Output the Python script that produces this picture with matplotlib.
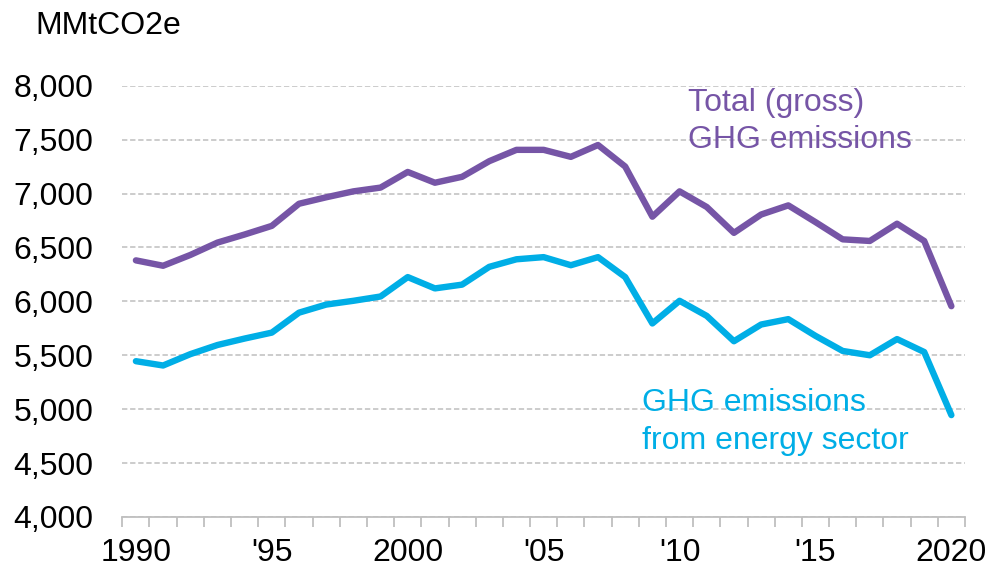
import matplotlib
matplotlib.use("Agg")
import matplotlib.pyplot as plt
from matplotlib.ticker import FixedLocator, FuncFormatter

plt.rcParams["font.family"] = ["Liberation Sans", "DejaVu Sans"]

# ── Data (MMtCO2e) ───────────────────────────────────────────────────────────
years = list(range(1990, 2021))
total_gross = [6380, 6330, 6430, 6545, 6620, 6700, 6905, 6965, 7020, 7055,
               7200, 7100, 7155, 7300, 7405, 7405, 7340, 7450, 7250, 6785,
               7020, 6875, 6635, 6805, 6890, 6735, 6575, 6560, 6720, 6560,
               5955]
energy_sector = [5445, 5405, 5510, 5595, 5655, 5710, 5895, 5970, 6005, 6045,
                 6225, 6120, 6155, 6320, 6390, 6410, 6335, 6410, 6225, 5795,
                 6005, 5865, 5630, 5785, 5835, 5680, 5540, 5500, 5650, 5530,
                 4945]
label_years = [1990, 1995, 2000, 2005, 2010, 2015, 2020]
label_text = ["1990", "'95", "2000", "'05", "'10", "'15", "2020"]
y_ticks = [4000, 4500, 5000, 5500, 6000, 6500, 7000, 7500, 8000]

C = dict(total="#7655A6", energy="#00AEE6", grid="#BFBFBF", axis="#BFBFBF", text="#000000")
FS = 23

fig = plt.figure(figsize=(9.88, 5.69), dpi=100, facecolor="white")
ax = fig.add_axes([0.1238, 0.0914, 0.8529, 0.758])

ax.plot(years, total_gross, color=C["total"], lw=4.6, solid_capstyle="round",
        solid_joinstyle="round", zorder=3)
ax.plot(years, energy_sector, color=C["energy"], lw=4.6, solid_capstyle="round",
        solid_joinstyle="round", zorder=3)

ax.set_xlim(years[0] - 0.5, years[-1] + 0.5)
ax.set_ylim(y_ticks[0], y_ticks[-1])

# y axis: dashed gridlines, no ticks
ax.yaxis.set_major_locator(FixedLocator(y_ticks))
ax.yaxis.set_major_formatter(FuncFormatter(lambda v, p: f"{v:,.0f}"))
ax.tick_params(axis="y", length=0, pad=21, labelsize=FS, labelcolor=C["text"])
ax.yaxis.grid(True, color=C["grid"], lw=1.1, ls=(0, (3.5, 1.8)), zorder=0)
ax.set_axisbelow(True)

# x axis: category ticks between years, labels on selected years
ax.xaxis.set_major_locator(FixedLocator(label_years))
ax.set_xticklabels(label_text)
ax.xaxis.set_minor_locator(FixedLocator([y - 0.5 for y in years] + [years[-1] + 0.5]))
ax.tick_params(axis="x", which="major", length=0, pad=15, labelsize=FS, labelcolor=C["text"])
ax.tick_params(axis="x", which="minor", length=7.5, width=1.3, color=C["axis"], direction="out")

for side in ("top", "right", "left"):
    ax.spines[side].set_visible(False)
ax.spines["bottom"].set_color(C["axis"])
ax.spines["bottom"].set_linewidth(1.3)

# Unit label and series labels
fig.text(35 / 988, 1 - 34 / 569, "MMtCO2e", fontsize=FS, color=C["text"],
         ha="left", va="baseline")
ax.text(2010.31, 7768, "Total (gross)", fontsize=FS, color=C["total"], va="baseline")
ax.text(2010.31, 7418, "GHG emissions", fontsize=FS, color=C["total"], va="baseline")
ax.text(2008.6, 4985, "GHG emissions", fontsize=FS, color=C["energy"], va="baseline")
ax.text(2008.6, 4632, "from energy sector", fontsize=FS, color=C["energy"], va="baseline")

fig.savefig("out.png", dpi=100, facecolor="white")
plt.close(fig)
